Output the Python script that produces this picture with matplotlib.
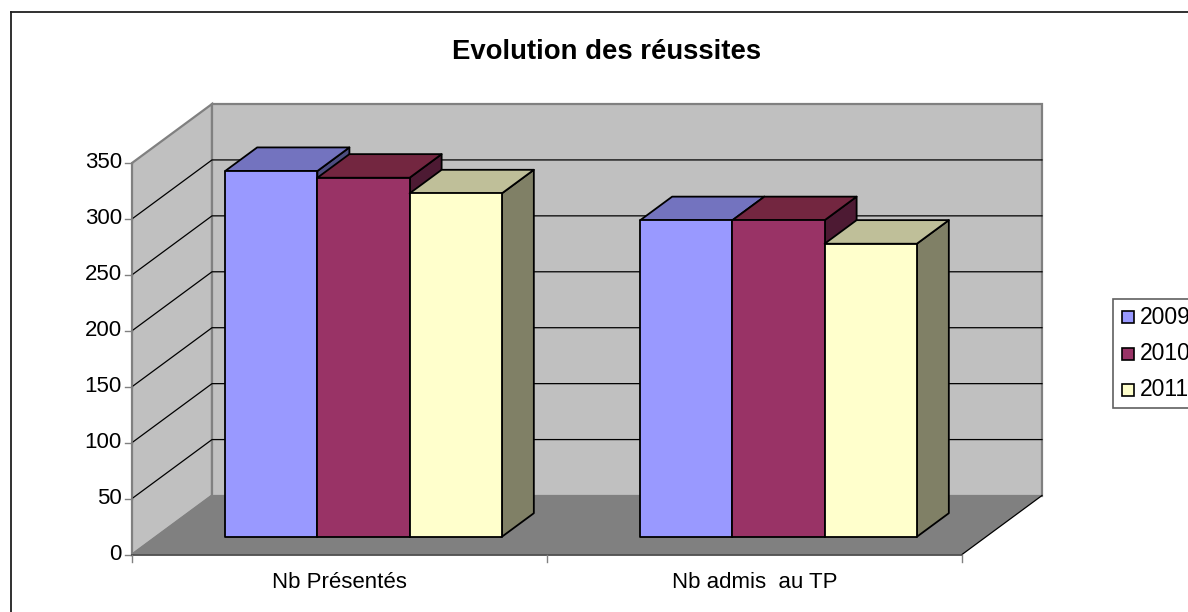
import matplotlib
matplotlib.use("Agg")
import matplotlib.pyplot as plt
from matplotlib.patches import Polygon, Rectangle

plt.rcParams['font.family'] = ['Liberation Sans', 'DejaVu Sans']

title = "Evolution des réussites"
categories = ["Nb Présentés", "Nb admis  au TP"]
years = ["2009", "2010", "2011"]
values_2009 = [327, 283]
values_2010 = [321, 283]
values_2011 = [307, 262]
y_ticks = [0, 50, 100, 150, 200, 250, 300, 350]

front_colors = ["#9999FF", "#993366", "#FFFFCC"]
top_colors = ["#7373BF", "#732640", "#BFBF99"]
side_colors = ["#4D4D80", "#4D1A33", "#808066"]

# projection of the fake 3d box to image pixels
X0, Y0 = 132, 554.5
CAT_W = 415
PX_PER_UNIT = 391.5 / 350
DEPTH_X, DEPTH_Y = 80, -59


def proj(cat, val, depth):
    return (X0 + CAT_W * cat + DEPTH_X * depth, Y0 - PX_PER_UNIT * val + DEPTH_Y * depth)


fig = plt.figure(figsize=(11.88, 6.12), dpi=100)
ax = fig.add_axes([0, 0, 1, 1])
ax.set_xlim(0, 1188)
ax.set_ylim(612, 0)
ax.axis("off")

ymax = y_ticks[-1]
ncat = len(categories)

# walls and floor
ax.add_patch(Polygon([proj(0, 0, 0), proj(0, ymax, 0), proj(0, ymax, 1), proj(0, 0, 1)],
                     fc="#C0C0C0", ec="#808080", lw=1.6, zorder=1))
ax.add_patch(Polygon([proj(0, 0, 1), proj(0, ymax, 1), proj(ncat, ymax, 1), proj(ncat, 0, 1)],
                     fc="#C0C0C0", ec="#808080", lw=1.6, zorder=1))
ax.add_patch(Polygon([proj(0, 0, 0), proj(0, 0, 1), proj(ncat, 0, 1), proj(ncat, 0, 0)],
                     fc="#808080", ec="none", zorder=2))

# gridlines
for t in y_ticks[1:-1]:
    a, b, c = proj(0, t, 0), proj(0, t, 1), proj(ncat, t, 1)
    ax.plot([a[0], b[0], c[0]], [a[1], b[1], c[1]], color="black", lw=0.9, zorder=3)
a, b = proj(0, 0, 0), proj(0, 0, 1)
ax.plot([a[0], b[0]], [a[1], b[1]], color="#808080", lw=1, zorder=3)
a, b = proj(ncat, 0, 0), proj(ncat, 0, 1)
ax.plot([a[0], b[0]], [a[1], b[1]], color="black", lw=0.9, zorder=3)

# bars, 3 per category with gap 150 and depth 0.3 to 0.7
series = [values_2009, values_2010, values_2011]
bar_w = 1 / 4.5
gap = bar_w * 0.75
d0, d1 = 0.3, 0.7
z = 10
for c in range(ncat):
    for s in range(len(series)):
        v = series[s][c]
        x0 = c + gap + s * bar_w
        x1 = x0 + bar_w
        ax.add_patch(Polygon([proj(x1, 0, d0), proj(x1, v, d0), proj(x1, v, d1), proj(x1, 0, d1)],
                             fc=side_colors[s], ec="black", lw=1.3, joinstyle="round", zorder=z))
        ax.add_patch(Polygon([proj(x0, v, d0), proj(x0, v, d1), proj(x1, v, d1), proj(x1, v, d0)],
                             fc=top_colors[s], ec="black", lw=1.3, joinstyle="round", zorder=z))
        ax.add_patch(Polygon([proj(x0, 0, d0), proj(x0, v, d0), proj(x1, v, d0), proj(x1, 0, d0)],
                             fc=front_colors[s], ec="black", lw=1.3, joinstyle="round", zorder=z + 1))
        z += 2

# axes lines, ticks and labels
a, b = proj(0, 0, 0), proj(0, ymax, 0)
ax.plot([a[0], b[0]], [a[1], b[1]], color="#808080", lw=1.2, zorder=5)
for t in y_ticks:
    p = proj(0, t, 0)
    ax.plot([p[0] - 7, p[0]], [p[1], p[1]], color="#808080", lw=1, zorder=5)
    ax.text(p[0] - 10, p[1], str(t), ha="right", va="center", fontsize=16, color="black")

a, b = proj(0, 0, 0), proj(ncat, 0, 0)
ax.plot([a[0], b[0]], [a[1], b[1]], color="#404040", lw=1.2, zorder=5)
for c in range(ncat + 1):
    p = proj(c, 0, 0)
    ax.plot([p[0], p[0]], [p[1], p[1] + 7], color="#808080", lw=1, zorder=5)
for c, name in enumerate(categories):
    p = proj(c + 0.5, 0, 0)
    ax.text(p[0], 587.5, name, ha="center", va="baseline", fontsize=16, color="black")

ax.text(607, 52, title, ha="center", va="center", fontsize=19.8, fontweight="bold", color="black")

# chart frame, cut off by the image on the right and bottom
ax.plot([11, 11], [612, 12], color="#202020", lw=1.3, zorder=30)
ax.plot([11, 1188], [12, 12], color="#202020", lw=1.3, zorder=30)

# legend
ax.add_patch(Rectangle((1112.5, 299), 90, 109, fc="white", ec="#606060", lw=1.2, zorder=30))
legend_y = [317, 354, 390]
for s, year in enumerate(years):
    ax.add_patch(Rectangle((1121.5, legend_y[s] - 6), 12, 12, fc=front_colors[s], ec="black", lw=1.2, zorder=31))
    ax.text(1140, legend_y[s], year, ha="left", va="center", fontsize=16.5, color="black", zorder=31, clip_on=True)

fig.savefig("out.png", dpi=100)
